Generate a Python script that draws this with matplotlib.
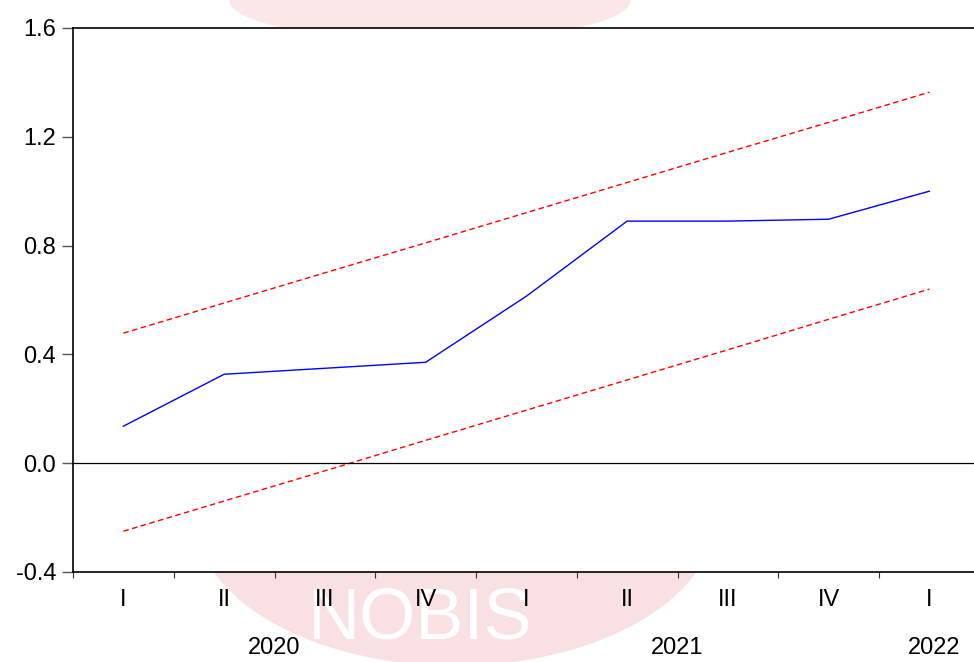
import matplotlib.pyplot as plt
from matplotlib.patches import Ellipse

# CUSUM-type recursive estimate with 5% bands, quarterly 2020Q1-2022Q1
periodos = ["I", "II", "III", "IV", "I", "II", "III", "IV", "I"]
anios = ["2020", "2021", "2022"]
anio_pos = [1.5, 5.5, 8.05]
estimado = [0.136, 0.327, 0.349, 0.371, 0.614, 0.890, 0.890, 0.897, 1.000]
banda_sup = [0.478, 0.589, 0.700, 0.810, 0.921, 1.032, 1.143, 1.253, 1.364]
banda_inf = [-0.250, -0.139, -0.028, 0.084, 0.195, 0.306, 0.417, 0.529, 0.640]

plt.rcParams['font.family'] = ['Liberation Sans', 'DejaVu Sans']

fig = plt.figure(figsize=(9.74, 6.62), dpi=100)

# marca de agua de fondo (solo asoma fuera del area del grafico)
fig.patches.append(Ellipse((455 / 974, 1 - 515 / 662), 520 / 974, 300 / 662,
                           transform=fig.transFigure, color="#f9e0e3", zorder=0))
fig.patches.append(Ellipse((430 / 974, 1.0), 400 / 974, 80 / 662,
                           transform=fig.transFigure, color="#fbe6e8", zorder=0))
fig.text(419 / 974, 1 - 620 / 662, "NOBIS", color="white", fontsize=52,
         ha="center", va="center", zorder=1)

ax = fig.add_axes([73 / 974, 1 - 572 / 662, 906.75 / 974, 544 / 662])
ax.set_facecolor("white")
ax.set_zorder(2)

x = list(range(len(periodos)))
ax.plot(x, estimado, color="blue", lw=1)
ax.plot(x, banda_sup, color="red", lw=1, ls=(0, (4, 2.5)))
ax.plot(x, banda_inf, color="red", lw=1, ls=(0, (4, 2.5)))
ax.axhline(0, color="black", lw=0.9)

ax.set_xlim(-0.5, 8.5)
ax.set_ylim(-0.4, 1.6)
ax.set_yticks([-0.4, 0.0, 0.4, 0.8, 1.2, 1.6])
ax.set_yticklabels(["-0.4", "0.0", "0.4", "0.8", "1.2", "1.6"])
ax.tick_params(axis="y", direction="out", length=8, width=1, color="#555555",
               labelsize=17, pad=4)

# marcas en los limites de trimestre; mas largas en cambio de anio
ax.set_xticks([k - 0.5 for k in range(9)])
ax.set_xticklabels([])
ax.tick_params(axis="x", which="major", direction="out", length=4.5, width=0.8,
               color="#333333")
ax.set_xticks([-0.5, 3.5, 7.5], minor=True)
ax.tick_params(axis="x", which="minor", direction="out", length=8, width=0.8,
               color="#333333")

for i, p in enumerate(periodos):
    ax.text(i, -0.503, p, ha="center", va="center", fontsize=17, clip_on=False)
for a, pos in zip(anios, anio_pos):
    ax.text(pos, -0.679, a, ha="center", va="center", fontsize=17,
            clip_on=False)

for s in ["left", "top", "bottom"]:
    ax.spines[s].set_linewidth(1.2)
ax.spines["right"].set_visible(False)

plt.savefig("out.png", dpi=100)
